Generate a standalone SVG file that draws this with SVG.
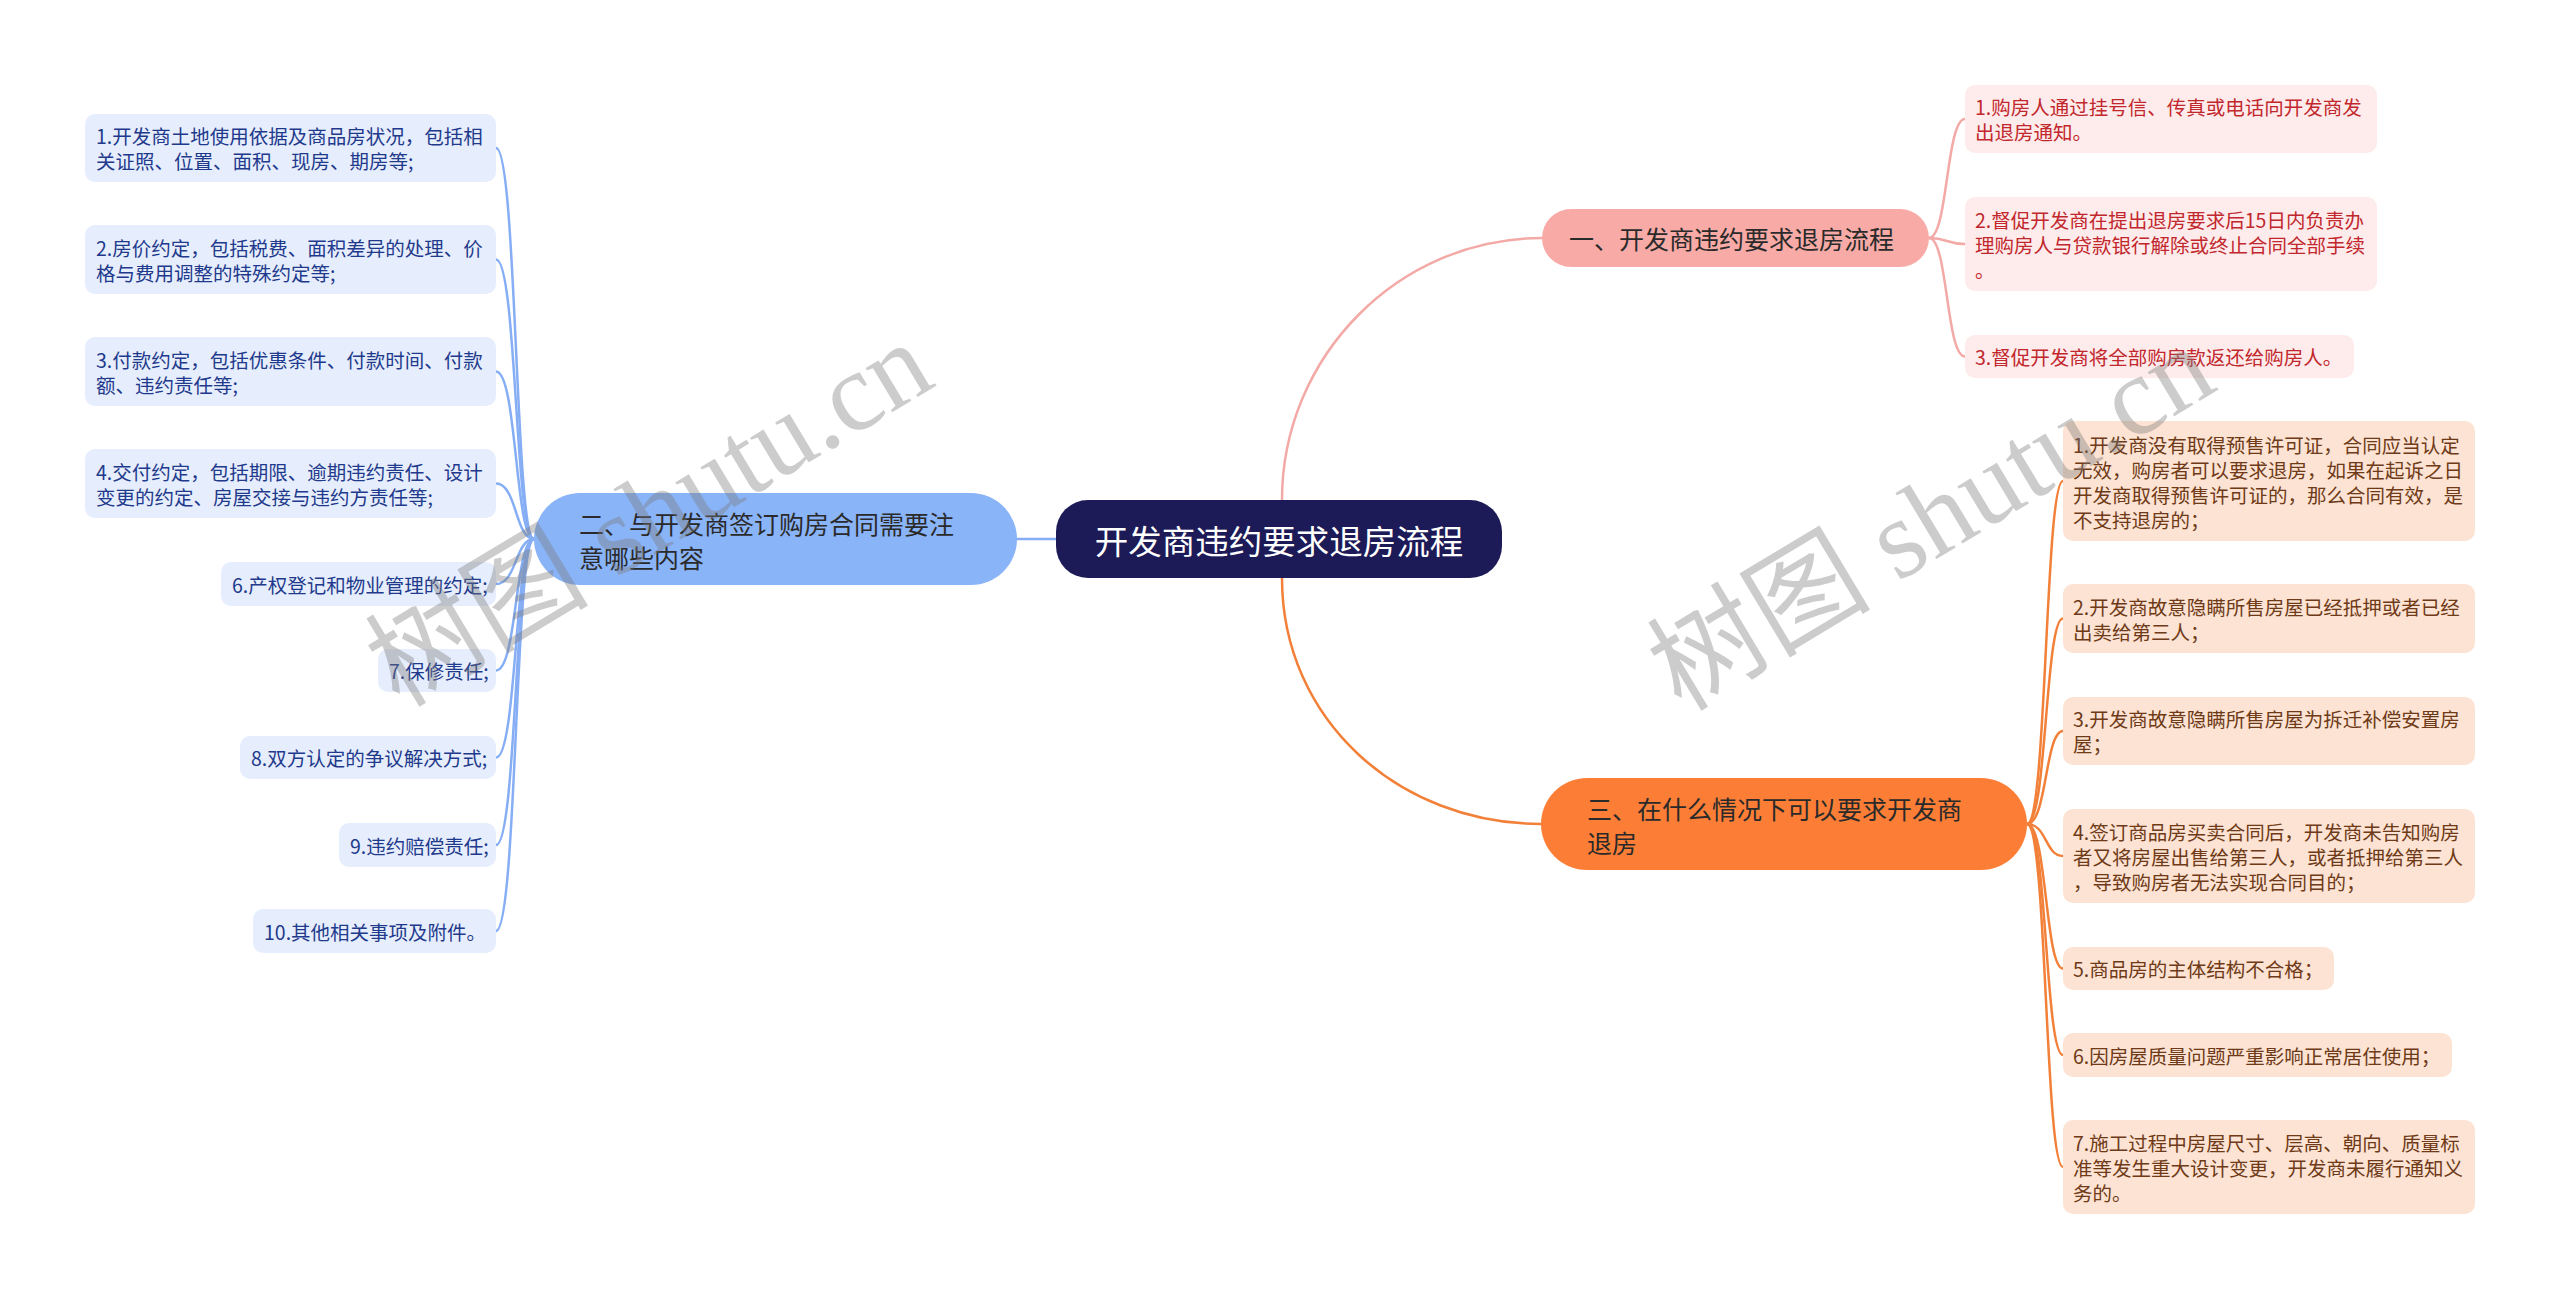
<svg xmlns="http://www.w3.org/2000/svg" width="2560" height="1299" viewBox="0 0 2560 1299">
<style>
text{font-family:"Noto Sans CJK SC","Noto Sans",sans-serif;dominant-baseline:central}
.c{fill:none;stroke-linecap:round}
.cb{stroke:#86aef5;stroke-width:2.5}
.cp{stroke:#f3aaa7;stroke-width:2.5}
.co{stroke:#f28039;stroke-width:2.5}
.lb{fill:#e6eefd}
.lt{fill:#1f3a8c;font-size:19.5px}
.pb{fill:#fdeceb}
.pt{fill:#c2272d;font-size:19.5px}
.ob{fill:#fde3d3}
.ot{fill:#6e3a17;font-size:19.5px}
.bt{font-size:25px;fill:#2a2a2a}
.wm{font-family:"Liberation Serif","Noto Sans CJK SC",serif;font-size:112px;fill:#7a7a7a;opacity:0.38;text-anchor:middle}
</style>
<rect width="2560" height="1299" fill="#ffffff"/>
<g id="connectors">
<path class="c cb" d="M1056 539 H1017" stroke-width="3"/>
<path class="c cp" d="M1282 500 C1282 356 1399 238 1542 238" stroke-width="3"/>
<path class="c co" d="M1282 578 C1282 720 1399 824 1541 824" stroke-width="3"/>
<path class="c cb" d="M534 539 C515 539 517 148 496 148"/>
<path class="c cb" d="M534 539 C515 539 517 259.5 496 259.5"/>
<path class="c cb" d="M534 539 C515 539 517 371.5 496 371.5"/>
<path class="c cb" d="M534 539 C515 539 517 483.5 496 483.5"/>
<path class="c cb" d="M534 539 C515 539 517 584 496 584"/>
<path class="c cb" d="M534 539 C515 539 517 670.5 496 670.5"/>
<path class="c cb" d="M534 539 C515 539 517 757.5 496 757.5"/>
<path class="c cb" d="M534 539 C515 539 517 845 496 845"/>
<path class="c cb" d="M534 539 C515 539 517 931 496 931"/>
<path class="c cp" d="M1929 238 C1948 238 1946 119 1965 119"/>
<path class="c cp" d="M1929 238 C1948 238 1946 244 1965 244"/>
<path class="c cp" d="M1929 238 C1948 238 1946 356.5 1965 356.5"/>
<path class="c co" d="M2027 824 C2047 824 2045 481 2063 481"/>
<path class="c co" d="M2027 824 C2047 824 2045 618.5 2063 618.5"/>
<path class="c co" d="M2027 824 C2047 824 2045 731 2063 731"/>
<path class="c co" d="M2027 824 C2047 824 2045 856 2063 856"/>
<path class="c co" d="M2027 824 C2047 824 2045 968.5 2063 968.5"/>
<path class="c co" d="M2027 824 C2047 824 2045 1055 2063 1055"/>
<path class="c co" d="M2027 824 C2047 824 2045 1167 2063 1167"/>
</g>
<g id="root">
<rect x="1056" y="500" width="446" height="78" rx="32" fill="#1c1a57"/>
<text x="1279" y="539" font-size="33.5" fill="#ffffff" text-anchor="middle">开发商违约要求退房流程</text>
</g>
<g id="b1">
<rect x="1542" y="209" width="387" height="58" rx="29" fill="#f8aaa6"/>
<text class="bt" x="1569" y="238">一、开发商违约要求退房流程</text>
</g>
<g id="b2">
<rect x="534" y="493" width="483" height="92" rx="46" fill="#8ab4f8"/>
<text class="bt" x="579" y="523">二、与开发商签订购房合同需要注</text>
<text class="bt" x="579" y="557">意哪些内容</text>
</g>
<g id="b3">
<rect x="1541" y="778" width="486" height="92" rx="46" fill="#fc7e36"/>
<text class="bt" x="1587" y="808" fill="#2e1606">三、在什么情况下可以要求开发商</text>
<text class="bt" x="1587" y="842" fill="#2e1606">退房</text>
</g>
<g id="l1"><rect class="lb" x="85" y="114" width="411" height="68" rx="10"/>
<text class="lt" x="96" y="135.5">1.开发商土地使用依据及商品房状况，包括相</text>
<text class="lt" x="96" y="160.5">关证照、位置、面积、现房、期房等;</text></g>
<g id="l2"><rect class="lb" x="85" y="225" width="411" height="69" rx="10"/>
<text class="lt" x="96" y="247">2.房价约定，包括税费、面积差异的处理、价</text>
<text class="lt" x="96" y="272">格与费用调整的特殊约定等;</text></g>
<g id="l3"><rect class="lb" x="85" y="337" width="411" height="69" rx="10"/>
<text class="lt" x="96" y="359">3.付款约定，包括优惠条件、付款时间、付款</text>
<text class="lt" x="96" y="384">额、违约责任等;</text></g>
<g id="l4"><rect class="lb" x="85" y="449" width="411" height="69" rx="10"/>
<text class="lt" x="96" y="471">4.交付约定，包括期限、逾期违约责任、设计</text>
<text class="lt" x="96" y="496">变更的约定、房屋交接与违约方责任等;</text></g>
<g id="l6"><rect class="lb" x="221" y="562" width="275" height="44" rx="10"/>
<text class="lt" x="232" y="584">6.产权登记和物业管理的约定;</text></g>
<g id="l7"><rect class="lb" x="378" y="649" width="118" height="43" rx="10"/>
<text class="lt" x="389" y="670.5">7.保修责任;</text></g>
<g id="l8"><rect class="lb" x="240" y="736" width="256" height="43" rx="10"/>
<text class="lt" x="251" y="757.5">8.双方认定的争议解决方式;</text></g>
<g id="l9"><rect class="lb" x="339" y="823" width="157" height="44" rx="10"/>
<text class="lt" x="350" y="845">9.违约赔偿责任;</text></g>
<g id="l10"><rect class="lb" x="253" y="909" width="243" height="44" rx="10"/>
<text class="lt" x="264" y="931">10.其他相关事项及附件。</text></g>
<g id="p1"><rect class="pb" x="1965" y="85" width="412" height="68" rx="10"/>
<text class="pt" x="1975" y="106.5">1.购房人通过挂号信、传真或电话向开发商发</text>
<text class="pt" x="1975" y="131.5">出退房通知。</text></g>
<g id="p2"><rect class="pb" x="1965" y="197" width="412" height="94" rx="10"/>
<text class="pt" x="1975" y="219">2.督促开发商在提出退房要求后15日内负责办</text>
<text class="pt" x="1975" y="244">理购房人与贷款银行解除或终止合同全部手续</text>
<text class="pt" x="1975" y="269">。</text></g>
<g id="p3"><rect class="pb" x="1965" y="335" width="389" height="43" rx="10"/>
<text class="pt" x="1975" y="356.5">3.督促开发商将全部购房款返还给购房人。</text></g>
<g id="o1"><rect class="ob" x="2063" y="421" width="412" height="120" rx="10"/>
<text class="ot" x="2073" y="444">1.开发商没有取得预售许可证，合同应当认定</text>
<text class="ot" x="2073" y="469">无效，购房者可以要求退房，如果在起诉之日</text>
<text class="ot" x="2073" y="494">开发商取得预售许可证的，那么合同有效，是</text>
<text class="ot" x="2073" y="519">不支持退房的；</text></g>
<g id="o2"><rect class="ob" x="2063" y="584" width="412" height="69" rx="10"/>
<text class="ot" x="2073" y="606">2.开发商故意隐瞒所售房屋已经抵押或者已经</text>
<text class="ot" x="2073" y="631">出卖给第三人；</text></g>
<g id="o3"><rect class="ob" x="2063" y="697" width="412" height="68" rx="10"/>
<text class="ot" x="2073" y="718.5">3.开发商故意隐瞒所售房屋为拆迁补偿安置房</text>
<text class="ot" x="2073" y="743.5">屋；</text></g>
<g id="o4"><rect class="ob" x="2063" y="809" width="412" height="94" rx="10"/>
<text class="ot" x="2073" y="831.5">4.签订商品房买卖合同后，开发商未告知购房</text>
<text class="ot" x="2073" y="856.5">者又将房屋出售给第三人，或者抵押给第三人</text>
<text class="ot" x="2073" y="881.5">，导致购房者无法实现合同目的；</text></g>
<g id="o5"><rect class="ob" x="2063" y="947" width="271" height="43" rx="10"/>
<text class="ot" x="2073" y="968.5">5.商品房的主体结构不合格；</text></g>
<g id="o6"><rect class="ob" x="2063" y="1033" width="389" height="44" rx="10"/>
<text class="ot" x="2073" y="1055">6.因房屋质量问题严重影响正常居住使用；</text></g>
<g id="o7"><rect class="ob" x="2063" y="1120" width="412" height="94" rx="10"/>
<text class="ot" x="2073" y="1142.5">7.施工过程中房屋尺寸、层高、朝向、质量标</text>
<text class="ot" x="2073" y="1167.5">准等发生重大设计变更，开发商未履行通知义</text>
<text class="ot" x="2073" y="1192.5">务的。</text></g>
<g id="watermarks">
<text class="wm" transform="translate(649 514) rotate(-31)" x="0" y="0">树图 shutu.cn</text>
<text class="wm" transform="translate(1931 518) rotate(-31)" x="0" y="0">树图 shutu.cn</text>
</g>
</svg>
